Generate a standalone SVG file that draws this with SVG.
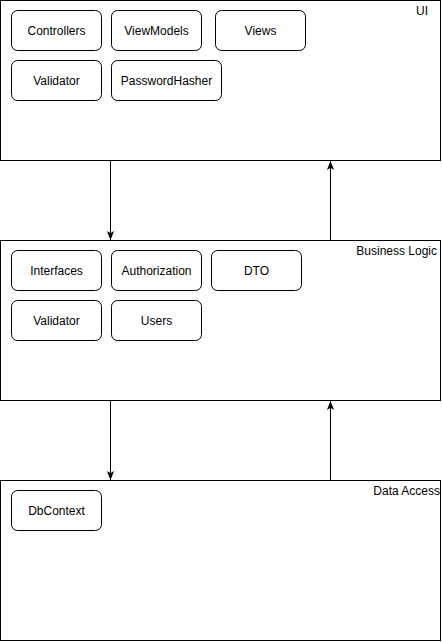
<svg xmlns="http://www.w3.org/2000/svg" width="442" height="642" viewBox="0 0 442 642">
<style>
.layer{fill:#fff;stroke:#000;stroke-width:1}
.box{fill:#fff;stroke:#000;stroke-width:1}
.t{font-family:"Liberation Sans",Arial,sans-serif;font-size:12px;fill:#000;text-anchor:middle}
.lt{font-family:"Liberation Sans",Arial,sans-serif;font-size:12px;fill:#000;text-anchor:end}
.c{fill:none;stroke:#000;stroke-width:1}
</style>
<defs>
<marker id="ah" viewBox="0 0 10 10" refX="10" refY="5" markerWidth="9" markerHeight="9" markerUnits="userSpaceOnUse" orient="auto">
<path d="M0,1 L10,5 L0,9 L2.5,5 Z" fill="#000"/>
</marker>
</defs>
<rect width="442" height="642" fill="#fff"/>
<g id="ui">
<rect class="layer" x="0.5" y="0.5" width="440" height="160"/>
<text class="lt" x="428" y="15">UI</text>
</g>
<g id="ui-controllers"><rect class="box" x="11.5" y="10.5" width="90" height="40" rx="6"/><text class="t" x="56.5" y="35">Controllers</text></g>
<g id="ui-viewmodels"><rect class="box" x="111.5" y="10.5" width="90" height="40" rx="6"/><text class="t" x="156.5" y="35">ViewModels</text></g>
<g id="ui-views"><rect class="box" x="215.5" y="10.5" width="90" height="40" rx="6"/><text class="t" x="260.5" y="35">Views</text></g>
<g id="ui-validator"><rect class="box" x="11.5" y="60.5" width="90" height="40" rx="6"/><text class="t" x="56.5" y="85">Validator</text></g>
<g id="ui-passwordhasher"><rect class="box" x="111.5" y="60.5" width="110" height="40" rx="6"/><text class="t" x="166.5" y="85">PasswordHasher</text></g>
<g id="bl">
<rect class="layer" x="0.5" y="240.5" width="440" height="160"/>
<text class="lt" x="437" y="255">Business Logic</text>
</g>
<g id="bl-interfaces"><rect class="box" x="11.5" y="250.5" width="90" height="40" rx="6"/><text class="t" x="56.5" y="275">Interfaces</text></g>
<g id="bl-authorization"><rect class="box" x="111.5" y="250.5" width="90" height="40" rx="6"/><text class="t" x="156.5" y="275">Authorization</text></g>
<g id="bl-dto"><rect class="box" x="211.5" y="250.5" width="90" height="40" rx="6"/><text class="t" x="256.5" y="275">DTO</text></g>
<g id="bl-validator"><rect class="box" x="11.5" y="300.5" width="90" height="40" rx="6"/><text class="t" x="56.5" y="325">Validator</text></g>
<g id="bl-users"><rect class="box" x="111.5" y="300.5" width="90" height="40" rx="6"/><text class="t" x="156.5" y="325">Users</text></g>
<g id="da">
<rect class="layer" x="0.5" y="480.5" width="440" height="160"/>
<text class="lt" x="440" y="495">Data Access</text>
</g>
<g id="da-dbcontext"><rect class="box" x="11.5" y="490.5" width="90" height="40" rx="6"/><text class="t" x="56.5" y="515">DbContext</text></g>
<g id="connectors">
<path class="c" d="M110.5,160.5 L110.5,240" marker-end="url(#ah)"/>
<path class="c" d="M330.5,240.5 L330.5,161" marker-end="url(#ah)"/>
<path class="c" d="M110.5,400.5 L110.5,480" marker-end="url(#ah)"/>
<path class="c" d="M330.5,480.5 L330.5,401" marker-end="url(#ah)"/>
</g>
</svg>
